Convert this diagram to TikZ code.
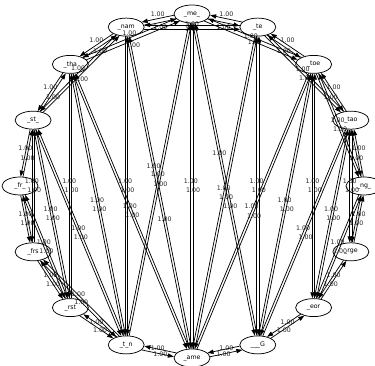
\documentclass[tikz,border=0pt]{standalone}
\usepackage{fontspec}
\setsansfont{DejaVu Sans}
\usetikzlibrary{arrows.meta, shapes.geometric}
\tikzset{
  tok/.style={ellipse, draw, line width=0.55pt, fill=white, minimum width=27pt, minimum height=13.5pt, inner sep=0pt, font=\sffamily\fontsize{4.7}{5}\selectfont},
  edge/.style={-{Triangle[length=4.5pt, width=3.2pt]}, line width=0.55pt},
  wt/.style={font=\sffamily\fontsize{4.7}{5}\selectfont, inner sep=0pt, text=black!85}
}

\begin{document}
\begin{tikzpicture}[x=0.75pt, y=0.75pt]
  \useasboundingbox (0,0) rectangle (375,366);

  % tokens round the ring
  \foreach \i/\name in {0/\_me\_, 1/\_nam, 2/\_tha, 3/\_st\_, 4/\_fr\_, 5/\_frs, 6/\_rst, 7/\_t\_n,
                        8/\_ame, 9/\_\_\_G, 10/\_eor, 11/\_rge, 12/\_ng\_, 13/\_tao, 14/\_toe, 15/\_te} {
    \node[tok] (v\i) at ({192+172*cos(90+22.5*\i)}, {180+172*sin(90+22.5*\i)}) {\name};
  }

  % transitions, both ways (third field: where the weight sits)
  \foreach \a/\b/\p in {0/1/.5, 1/2/.5, 2/3/.5, 3/4/.5, 4/5/.5, 5/6/.5, 6/7/.5, 7/8/.5,
                        8/9/.5, 9/10/.5, 10/11/.5, 11/12/.5, 12/13/.5, 13/14/.5, 14/15/.5, 15/0/.5,
                        0/2/.5, 0/14/.5, 1/15/.5, 1/3/.5, 3/5/.5, 4/6/.5, 5/7/.5,
                        15/13/.5, 13/11/.5, 12/10/.5, 14/12/.5,
                        2/6/.5, 2/7/.5, 2/8/.5, 3/6/.5, 3/7/.5, 1/7/.5, 1/8/.43, 0/7/.5, 0/8/.5, 0/9/.43,
                        15/8/.5, 15/9/.5, 14/8/.5, 14/9/.5, 14/10/.5, 13/9/.5, 13/10/.5} {
    \pgfmathsetmacro\dir{atan2(sin(90+22.5*\b)-sin(90+22.5*\a), cos(90+22.5*\b)-cos(90+22.5*\a))}
    \pgfmathtruncatemacro\sa{mod(round(\dir-7)+720,360)}
    \pgfmathtruncatemacro\eb{mod(round(\dir+187)+720,360)}
    \pgfmathtruncatemacro\sb{mod(round(\dir+173)+720,360)}
    \pgfmathtruncatemacro\ea{mod(round(\dir+7)+720,360)}
    \draw[edge] (v\a.\sa) -- node[wt, pos=\p, yshift=3.5pt] {1.00} (v\b.\eb);
    \draw[edge] (v\b.\sb) -- node[wt, pos=\p, yshift=-3.5pt] {1.00} (v\a.\ea);
  }

\end{tikzpicture}
\end{document}
